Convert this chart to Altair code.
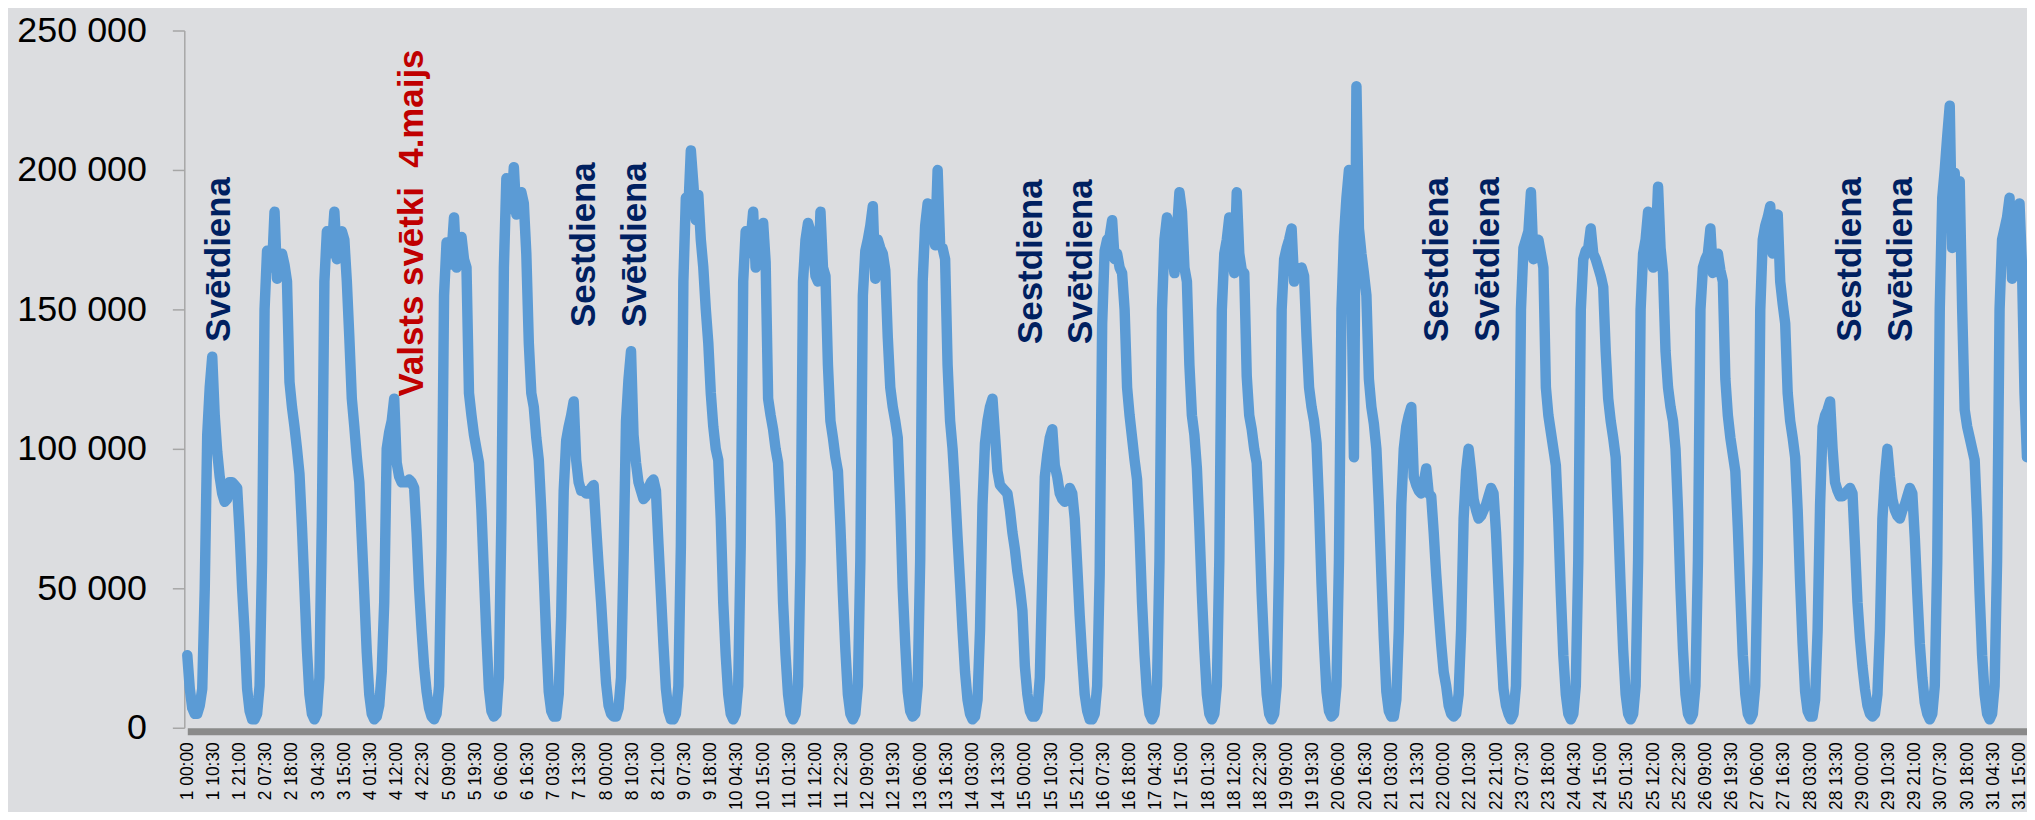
import json
import altair as alt
import pandas as pd

# Hourly values (thousands) for each day of May
day_values = [
    [26, 14, 7, 5, 5, 8, 14, 50, 105, 122, 133, 112, 99, 90, 84, 81, 82, 88, 88, 87, 86, 70, 50, 34],
    [14, 6, 3, 3, 5, 15, 60, 150, 171, 168, 165, 185, 161, 169, 170, 166, 160, 124, 115, 108, 100, 91, 72, 50],
    [28, 12, 5, 3, 5, 18, 75, 160, 178, 170, 172, 185, 168, 176, 178, 175, 160, 140, 118, 108, 97, 88, 68, 48],
    [27, 12, 5, 3, 4, 8, 20, 45, 100, 106, 110, 118, 95, 90, 88, 88, 88, 89, 88, 86, 70, 50, 35, 22],
    [13, 7, 4, 3, 5, 15, 65, 155, 174, 166, 170, 183, 165, 175, 176, 168, 165, 120, 112, 105, 100, 95, 78, 55],
    [33, 14, 6, 4, 5, 18, 75, 165, 197, 190, 186, 201, 184, 187, 192, 188, 170, 138, 120, 115, 104, 96, 78, 55],
    [32, 13, 6, 4, 4, 12, 40, 85, 103, 108, 112, 117, 96, 88, 85, 85, 84, 84, 86, 87, 72, 58, 45, 30],
    [16, 8, 5, 4, 4, 7, 18, 60, 110, 125, 135, 105, 95, 88, 85, 82, 83, 86, 88, 89, 85, 66, 48, 30],
    [14, 6, 3, 3, 5, 15, 65, 160, 190, 186, 207, 195, 182, 191, 175, 165, 150, 138, 120, 108, 100, 96, 75, 45],
    [26, 12, 5, 3, 5, 15, 65, 160, 178, 170, 175, 185, 165, 172, 176, 181, 167, 118, 112, 107, 100, 95, 75, 45],
    [26, 12, 5, 3, 5, 15, 60, 160, 175, 181, 178, 172, 162, 160, 185, 165, 162, 130, 110, 104, 97, 92, 72, 48],
    [28, 12, 5, 3, 5, 15, 60, 155, 171, 175, 180, 187, 161, 175, 172, 170, 164, 140, 122, 115, 110, 104, 80, 50],
    [30, 13, 6, 4, 5, 15, 60, 160, 180, 188, 185, 178, 173, 200, 173, 172, 168, 130, 110, 100, 85, 68, 52, 35],
    [20, 10, 5, 3, 4, 10, 35, 80, 102, 110, 115, 118, 105, 92, 87, 86, 85, 84, 78, 70, 64, 56, 50, 42],
    [22, 12, 6, 4, 4, 6, 18, 55, 90, 98, 104, 107, 94, 90, 84, 82, 81, 83, 86, 84, 75, 58, 40, 25],
    [12, 6, 3, 3, 5, 15, 55, 145, 171, 175, 176, 182, 168, 170, 165, 163, 150, 122, 112, 104, 96, 89, 70, 45],
    [26, 12, 5, 3, 5, 15, 60, 150, 175, 183, 180, 172, 163, 178, 192, 185, 165, 160, 130, 112, 105, 93, 72, 48],
    [28, 12, 5, 3, 5, 15, 60, 150, 170, 175, 183, 170, 163, 192, 170, 164, 163, 126, 112, 107, 100, 95, 74, 48],
    [28, 12, 5, 3, 5, 15, 60, 150, 168, 172, 175, 179, 160, 165, 163, 165, 162, 140, 122, 115, 110, 102, 80, 52],
    [30, 13, 6, 4, 5, 15, 60, 150, 176, 190, 200, 160, 97, 230, 179, 170, 163, 155, 125, 115, 109, 100, 80, 55],
    [32, 13, 6, 4, 4, 10, 35, 80, 100, 108, 112, 115, 90, 87, 85, 84, 88, 93, 84, 83, 70, 55, 42, 30],
    [20, 15, 8, 5, 4, 5, 12, 35, 75, 92, 100, 92, 82, 78, 75, 76, 78, 80, 83, 86, 84, 70, 50, 30],
    [14, 8, 5, 3, 5, 15, 60, 150, 172, 175, 178, 192, 168, 172, 175, 170, 165, 122, 112, 106, 100, 94, 74, 48],
    [26, 12, 5, 3, 5, 15, 60, 150, 168, 171, 172, 179, 170, 168, 165, 162, 158, 135, 118, 110, 104, 97, 75, 50],
    [28, 12, 5, 3, 5, 15, 60, 150, 170, 175, 185, 178, 165, 172, 194, 172, 163, 135, 122, 115, 110, 100, 78, 50],
    [28, 12, 5, 3, 5, 15, 60, 150, 165, 168, 170, 179, 163, 165, 170, 164, 160, 125, 112, 104, 98, 92, 72, 48],
    [26, 12, 5, 3, 5, 15, 60, 150, 175, 180, 183, 187, 170, 180, 184, 160, 152, 145, 120, 110, 104, 97, 78, 52],
    [30, 13, 6, 4, 4, 10, 35, 80, 108, 112, 114, 117, 100, 88, 85, 83, 83, 84, 85, 86, 84, 65, 45, 32],
    [22, 14, 8, 5, 4, 5, 12, 35, 75, 90, 100, 90, 82, 78, 76, 75, 78, 80, 83, 86, 84, 68, 48, 30],
    [18, 9, 5, 3, 5, 15, 60, 150, 190, 200, 212, 223, 172, 199, 175, 196, 150, 114, 108, 104, 100, 96, 75, 48],
    [26, 12, 5, 3, 5, 15, 60, 150, 175, 179, 183, 190, 161, 175, 185, 188, 165, 120, 97],
]

# Annotations: text, hour position (baseline), value (thousands) where text starts, colour
ann_text = ["Svētdiena", "Valsts svētki\u00a0 4.maijs", "Sestdiena", "Svētdiena",
            "Sestdiena", "Svētdiena", "Sestdiena", "Svētdiena", "Sestdiena", "Svētdiena"]
ann_t = [17.3, 94.4, 163.5, 184.0, 342.8, 362.9, 505.6, 526.1, 671.5, 691.7]
ann_v = [138.4, 118.8, 143.7, 143.7, 137.6, 137.6, 138.4, 138.4, 138.4, 138.4]
ann_color = ["#002060", "#c00000", "#002060", "#002060", "#002060",
             "#002060", "#002060", "#002060", "#002060", "#002060"]

y_tick_values = [0, 50, 100, 150, 200, 250]
y_tick_labels = ["0", "50 000", "100 000", "150 000", "200 000", "250 000"]

x_tick_values = [i * 10.5 for i in range(71)]
x_tick_labels = []
for tv in x_tick_values:
    d = int(tv // 24) + 1
    hh = int(tv % 24)
    mm = 30 if tv % 1 else 0
    x_tick_labels.append(f"{d} {hh:02d}:{mm:02d}")

rows = []
for d, vals in enumerate(day_values):
    for h, v in enumerate(vals):
        rows.append({"t": d * 24 + h, "v": v})
df = pd.DataFrame(rows)

ann_df = pd.DataFrame({"text": ann_text, "t": ann_t, "v": ann_v, "c": ann_color})

x_scale = alt.Scale(domain=[0, 738], nice=False, zero=False)
y_scale = alt.Scale(domain=[0, 250], nice=False)

x_axis = alt.Axis(
    values=x_tick_values,
    tickCount=200,
    labelExpr=json.dumps(x_tick_labels) + "[round(datum.value / 10.5)]",
    labelAngle=270,
    labelFont="Liberation Sans",
    labelFontSize=17.5,
    labelColor="#000000",
    labelPadding=10.5,
    labelOverlap=False,
    labelFlush=False,
    labelBound=False,
    ticks=False,
    tickSize=0,
    grid=False,
    domainColor="#8a8a8a",
    domainWidth=7,
    offset=3.5,
    title=None,
)
y_axis = alt.Axis(
    values=y_tick_values,
    labelExpr=json.dumps(y_tick_labels) + "[round(datum.value / 50)]",
    labelFont="Liberation Sans",
    labelFontSize=36,
    labelColor="#000000",
    labelPadding=26,
    tickSize=12,
    tickColor="#a6a6a6",
    tickWidth=1.5,
    domainColor="#a6a6a6",
    domainWidth=1.5,
    offset=3,
    grid=False,
    title=None,
)

line = alt.Chart(df).mark_line(
    color="#5b9bd5", strokeWidth=10.5, strokeJoin="round", strokeCap="round"
).encode(
    x=alt.X("t:Q", scale=x_scale, axis=x_axis),
    y=alt.Y("v:Q", scale=y_scale, axis=y_axis),
)

labels = alt.Chart(ann_df).mark_text(
    angle=270,
    align="left",
    baseline="alphabetic",
    font="Liberation Sans",
    fontWeight="bold",
    fontSize=35,
).encode(
    x=alt.X("t:Q", scale=x_scale),
    y=alt.Y("v:Q", scale=y_scale),
    text="text:N",
    color=alt.Color("c:N", scale=None),
)

chart = alt.layer(line, labels).properties(
    width=1847,
    height=700,
    autosize=alt.AutoSizeParams(type="none"),
    padding={"left": 180, "right": 0, "top": 21, "bottom": 83},
    background="#dcdde0",
).configure_view(stroke=None)

chart.save("out.html", embed_options={"renderer": "svg", "actions": False})
